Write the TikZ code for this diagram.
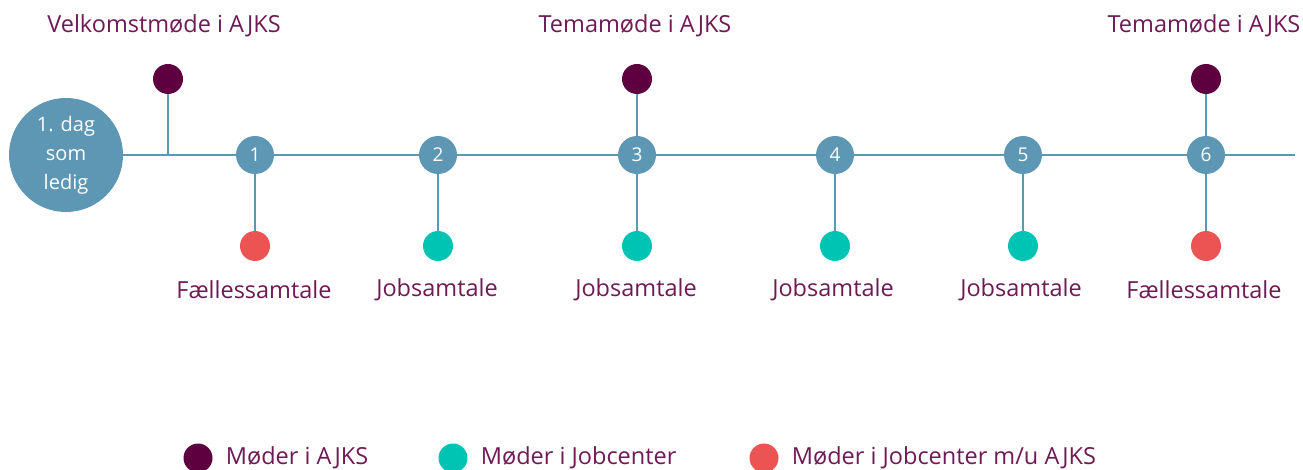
\documentclass[tikz,border=0pt]{standalone}
\usepackage{fontspec}
\setmainfont{Open Sans}
\usepackage{tikz}
\usetikzlibrary{positioning}
\definecolor{tidblaa}{HTML}{5D97B4}
\definecolor{ajks}{HTML}{5E0040}
\definecolor{jobcenter}{HTML}{00C4B3}
\definecolor{faelles}{HTML}{EC5454}
\definecolor{tekst}{HTML}{701A55}
\tikzstyle{tidslinje} = [draw=tidblaa, line width=2.8pt]
\tikzstyle{start} = [circle, fill=tidblaa, text=white, minimum size=114pt, inner sep=0pt, align=center, font=\fontsize{20}{29}\selectfont]
\tikzstyle{trin} = [circle, fill=tidblaa, text=white, minimum size=38pt, inner sep=0pt, font=\fontsize{19}{20}\selectfont]
\tikzstyle{prik} = [circle, minimum size=30pt, inner sep=0pt]
\tikzstyle{etiket} = [text=tekst, inner sep=0pt, font=\fontsize{23.5}{26}\selectfont]

\begin{document}
\begin{tikzpicture}[x=1pt, y=-1pt]
	\useasboundingbox (0,0) rectangle (1303,470);
	\node [start] (dag) at (66,155) {1. dag\\som\\ledig};
	\coordinate (velkomst) at (168,155);
	\coordinate (slut) at (1295,155);
	\node [trin] (t1) at (255,155) {1};
	\node [trin] (t2) at (438,155) {2};
	\node [trin] (t3) at (637,155) {3};
	\node [trin] (t4) at (835,155) {4};
	\node [trin] (t5) at (1023,155) {5};
	\node [trin] (t6) at (1206,155) {6};
	% moeder over linjen
	\node [prik, fill=ajks] (o0) at (168,79) {};
	\node [prik, fill=ajks] (o3) at (637,79) {};
	\node [prik, fill=ajks] (o6) at (1206,79) {};
	% moeder under linjen
	\node [prik, fill=faelles] (u1) at (255,246) {};
	\node [prik, fill=jobcenter] (u2) at (438,246) {};
	\node [prik, fill=jobcenter] (u3) at (637,246) {};
	\node [prik, fill=jobcenter] (u4) at (835,246) {};
	\node [prik, fill=jobcenter] (u5) at (1023,246) {};
	\node [prik, fill=faelles] (u6) at (1206,246) {};
	\draw [tidslinje] (dag) -- (t1) -- (t2) -- (t3) -- (t4) -- (t5) -- (t6) -- (slut);
	\draw [tidslinje] (velkomst) -- (o0);
	\draw [tidslinje] (t3) -- (o3);
	\draw [tidslinje] (t6) -- (o6);
	\draw [tidslinje] (t1) -- (u1);
	\draw [tidslinje] (t2) -- (u2);
	\draw [tidslinje] (t3) -- (u3);
	\draw [tidslinje] (t4) -- (u4);
	\draw [tidslinje] (t5) -- (u5);
	\draw [tidslinje] (t6) -- (u6);
	% tekster
	\node [etiket] (l0) at (164,26) {Velkomstmøde i AJKS};
	\node [etiket] (l3) at (635,26) {Temamøde i AJKS};
	\node [etiket] (l6) at (1204,26) {Temamøde i AJKS};
	\node [etiket] (b1) at (254,290) {Fællessamtale};
	\node [etiket] (b2) at (437,290) {Jobsamtale};
	\node [etiket] (b3) at (636,290) {Jobsamtale};
	\node [etiket] (b4) at (833,290) {Jobsamtale};
	\node [etiket] (b5) at (1021,290) {Jobsamtale};
	\node [etiket] (b6) at (1204,290) {Fællessamtale};
	% forklaring
	\node [prik, fill=ajks, minimum size=29pt] (f1) at (198,458) {};
	\node [prik, fill=jobcenter, minimum size=29pt] (f2) at (453,458) {};
	\node [prik, fill=faelles, minimum size=29pt] (f3) at (764,458) {};
	\node [etiket, right=13pt of f1] {Møder i AJKS};
	\node [etiket, right=13pt of f2] {Møder i Jobcenter};
	\node [etiket, right=13pt of f3] {Møder i Jobcenter m/u AJKS};
\end{tikzpicture}
\end{document}
